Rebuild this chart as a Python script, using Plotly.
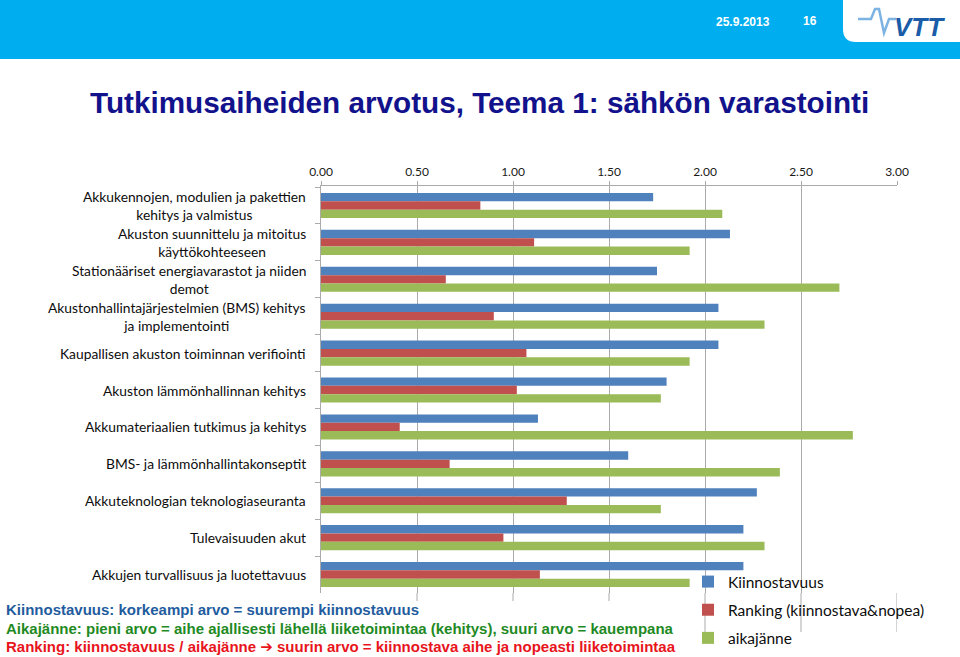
import plotly.graph_objects as go

categories = [
    "Akkukennojen, modulien ja pakettien kehitys ja valmistus",
    "Akuston suunnittelu ja mitoitus käyttökohteeseen",
    "Stationääriset energiavarastot ja niiden demot",
    "Akustonhallintajärjestelmien (BMS) kehitys ja implementointi",
    "Kaupallisen akuston toiminnan verifiointi",
    "Akuston lämmönhallinnan kehitys",
    "Akkumateriaalien tutkimus ja kehitys",
    "BMS- ja lämmönhallintakonseptit",
    "Akkuteknologian teknologiaseuranta",
    "Tulevaisuuden akut",
    "Akkujen turvallisuus ja luotettavuus",
]
category_labels = [
    "Akkukennojen, modulien ja pakettien<br>kehitys ja valmistus",
    "Akuston suunnittelu ja mitoitus<br>käyttökohteeseen",
    "Stationääriset energiavarastot ja niiden<br>demot",
    "Akustonhallintajärjestelmien (BMS) kehitys<br>ja implementointi",
    "Kaupallisen akuston toiminnan verifiointi",
    "Akuston lämmönhallinnan kehitys",
    "Akkumateriaalien tutkimus ja kehitys",
    "BMS- ja lämmönhallintakonseptit",
    "Akkuteknologian teknologiaseuranta",
    "Tulevaisuuden akut",
    "Akkujen turvallisuus ja luotettavuus",
]
kiinnostavuus = [1.73, 2.13, 1.75, 2.07, 2.07, 1.80, 1.13, 1.60, 2.27, 2.20, 2.20]
ranking = [0.83, 1.11, 0.65, 0.90, 1.07, 1.02, 0.41, 0.67, 1.28, 0.95, 1.14]
aikajanne = [2.09, 1.92, 2.70, 2.31, 1.92, 1.77, 2.77, 2.39, 1.77, 2.31, 1.92]
series_names = ["Kiinnostavuus", "Ranking (kiinnostava&nopea)", "aikajänne"]
x_ticks = [0, 0.5, 1.0, 1.5, 2.0, 2.5, 3.0]

title_text = "Tutkimusaiheiden arvotus, Teema 1: sähkön varastointi"
note_lines = [
    ("Kiinnostavuus: korkeampi arvo = suurempi kiinnostavuus", "#1F5C9E"),
    ("Aikajänne: pieni arvo = aihe ajallisesti lähellä liiketoimintaa (kehitys), suuri arvo = kauempana", "#1F8A24"),
    ("Ranking: kiinnostavuus / aikajänne ➔ suurin arvo = kiinnostava aihe ja nopeasti liiketoimintaa", "#E8141C"),
]

W, H = 960, 657
L, R, T, B = 321, 897, 186, 593

def px(x):
    return (x - L) / (R - L)

def py(y):
    return (B - y) / (B - T)

colors = ["#4F81BD", "#C0504D", "#9BBB59"]
fig = go.Figure()
for name, vals, c in zip(series_names, [kiinnostavuus, ranking, aikajanne], colors):
    fig.add_trace(go.Bar(
        y=categories, x=vals, orientation="h", name=name,
        marker=dict(color=c, line=dict(width=0)), legendgroup=name,
    ))

grid_c = "#ABABAB"
shapes = []
shapes.append(dict(type="rect", xref="paper", yref="paper", x0=px(0), x1=px(960), y0=py(0), y1=py(59),
                   fillcolor="#00AEEF", line=dict(width=0), layer="above"))
p = "M {a},{b} L {c},{b} L {c},{d} L {e},{d} Q {a},{d} {a},{f} Z".format(
    a=px(843), b=py(0), c=px(960), d=py(42), e=px(856), f=py(29))
shapes.append(dict(type="path", xref="paper", yref="paper", path=p, fillcolor="white",
                   line=dict(width=0), layer="above"))
pts = [(858, 19), (871, 19), (875, 9), (879, 9), (884, 33), (889, 19), (896, 19)]
pp = "M " + " L ".join("{},{}".format(px(x), py(y)) for x, y in pts)
shapes.append(dict(type="path", xref="paper", yref="paper", path=pp,
                   line=dict(color="#7DB3E3", width=2.5), layer="above"))
for v in x_ticks[1:]:
    shapes.append(dict(type="line", xref="x", yref="paper", x0=v, x1=v, y0=py(B), y1=py(632),
                       line=dict(color=grid_c, width=1), layer="below"))
shapes.append(dict(type="rect", xref="paper", yref="paper", x0=px(0), x1=px(700), y0=py(601), y1=py(657),
                   fillcolor="white", line=dict(width=0), layer="above"))

annotations = []
for cat, lab in zip(categories, category_labels):
    annotations.append(dict(xref="paper", yref="y", x=px(308), y=cat, text=lab, showarrow=False,
                            xanchor="right", yanchor="middle", align="center",
                            font=dict(family="Lato, Noto Sans, sans-serif", size=13.8, color="#0d0d0d")))
annotations.append(dict(xref="paper", yref="paper", x=px(479), y=py(102), text="<b>" + title_text + "</b>",
                        showarrow=False, xanchor="center", yanchor="middle",
                        font=dict(family="Liberation Sans, Arial, sans-serif", size=29.7, color="#12128C")))
annotations.append(dict(xref="paper", yref="paper", x=px(743), y=py(22), text="<b>25.9.2013</b>",
                        showarrow=False, xanchor="center", yanchor="middle",
                        font=dict(family="Liberation Sans, Arial, sans-serif", size=12, color="white")))
annotations.append(dict(xref="paper", yref="paper", x=px(810), y=py(21), text="<b>16</b>",
                        showarrow=False, xanchor="center", yanchor="middle",
                        font=dict(family="Liberation Sans, Arial, sans-serif", size=12, color="white")))
annotations.append(dict(xref="paper", yref="paper", x=px(919), y=py(27), text="<b><i>VTT</i></b>",
                        showarrow=False, xanchor="center", yanchor="middle",
                        font=dict(family="Liberation Sans, Arial, sans-serif", size=26, color="#1A5CA8")))
for i, (txt, c) in enumerate(note_lines):
    annotations.append(dict(xref="paper", yref="paper", x=px(4), y=py([609, 628, 646][i]),
                            text="<b>" + txt + "</b>", showarrow=False, xanchor="left", yanchor="middle",
                            font=dict(family="Liberation Sans, Arial, DejaVu Sans, sans-serif", size=15, color=c)))

fig.update_layout(
    width=W, height=H, autosize=False,
    margin=dict(l=L, r=W - R, t=T, b=H - B, pad=0, autoexpand=False),
    paper_bgcolor="white", plot_bgcolor="white",
    barmode="group", bargap=0.32, bargroupgap=0,
    shapes=shapes, annotations=annotations,
    showlegend=True,
    legend=dict(xref="container", yref="container", x=688 / W, y=1 - 565 / H,
                xanchor="left", yanchor="top",
                bgcolor="rgba(0,0,0,0)", traceorder="grouped", tracegroupgap=5,
                font=dict(family="Lato, Noto Sans, sans-serif", size=15.5, color="#0d0d0d")),
    xaxis=dict(side="top", range=[0, 3], tickvals=x_ticks, tickformat=".2f",
               showgrid=True, gridcolor=grid_c, gridwidth=1, zeroline=False,
               showline=True, linecolor=grid_c, ticks="outside", ticklen=4, tickcolor=grid_c,
               tickfont=dict(family="Lato, Noto Sans, sans-serif", size=12, color="#1a1a1a")),
    yaxis=dict(autorange="reversed", showticklabels=False, showgrid=False, zeroline=False,
               showline=True, linecolor=grid_c, ticks="outside", ticklen=5, tickcolor=grid_c,
               tickson="boundaries"),
)

post = "document.body.style.margin='0';document.body.style.overflow='hidden';"
fig.write_html("out.html", config={"displayModeBar": False}, post_script=post)
